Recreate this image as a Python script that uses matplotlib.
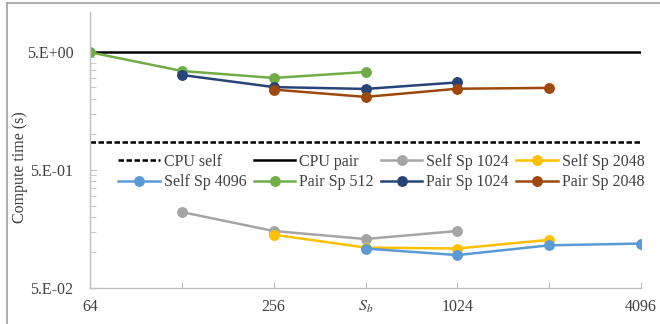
import numpy as np
import matplotlib
matplotlib.use('Agg')
from matplotlib import pyplot as plt
from matplotlib.ticker import FixedLocator, NullFormatter

plt.rcParams['font.family'] = ['Liberation Serif', 'DejaVu Serif']
plt.rcParams['mathtext.fontset'] = 'stix'

# block sizes (x) and compute times in seconds
x_all = [64, 4096]
cpu_self = [0.86, 0.86]
cpu_pair = [5.0, 5.0]

x_self_1024 = [128, 256, 512, 1024]
self_1024 = [0.22, 0.152, 0.130, 0.152]
x_self_2048 = [256, 512, 1024, 2048]
self_2048 = [0.1415, 0.110, 0.108, 0.128]
x_self_4096 = [512, 1024, 2048, 4096]
self_4096 = [0.108, 0.095, 0.115, 0.119]

x_pair_512 = [64, 128, 256, 512]
pair_512 = [4.97, 3.45, 3.01, 3.38]
x_pair_1024 = [128, 256, 512, 1024]
pair_1024 = [3.19, 2.52, 2.43, 2.76]
x_pair_2048 = [256, 512, 1024, 2048]
pair_2048 = [2.40, 2.08, 2.44, 2.48]

x_ticks = [64, 128, 256, 512, 1024, 2048, 4096]
x_labels = ['64', '', '256', '$S_b$', '1024', '', '4096']
y_ticks = [0.05, 0.5, 5.0]
y_labels = ['5.E-02', '5.E-01', '5.E+00']


def main():
    fig = plt.figure(figsize=(6.6, 3.24), dpi=100)
    ax = fig.add_axes([90 / 660, 1 - 288 / 324, (641 - 90) / 660, (288 - 12) / 324])

    lw = 1.8
    ms = 6.8
    h = {}
    h['CPU self'], = ax.plot(x_all, cpu_self, '--', color='black', lw=lw, dashes=(2.2, 1.0))
    h['CPU pair'], = ax.plot(x_all, cpu_pair, '-', color='black', lw=lw)
    h['Self Sp 1024'], = ax.plot(x_self_1024, self_1024, '-o', color='#A5A5A5', lw=lw, ms=ms)
    h['Self Sp 2048'], = ax.plot(x_self_2048, self_2048, '-o', color='#FFC000', lw=lw, ms=ms)
    h['Self Sp 4096'], = ax.plot(x_self_4096, self_4096, '-o', color='#5B9BD5', lw=lw, ms=ms)
    h['Pair Sp 512'], = ax.plot(x_pair_512, pair_512, '-o', color='#70AD47', lw=lw, ms=ms)
    h['Pair Sp 1024'], = ax.plot(x_pair_1024, pair_1024, '-o', color='#264478', lw=lw, ms=ms)
    h['Pair Sp 2048'], = ax.plot(x_pair_2048, pair_2048, '-o', color='#9E480E', lw=lw, ms=ms)

    ax.set_xscale('log', base=2)
    ax.set_yscale('log')
    ax.set_xlim(64, 4096)
    ax.set_ylim(0.05, 10.9)

    ax.xaxis.set_major_locator(FixedLocator(x_ticks))
    ax.set_xticklabels(x_labels)
    ax.xaxis.set_minor_locator(FixedLocator([]))
    ax.yaxis.set_major_locator(FixedLocator(y_ticks))
    ax.set_yticklabels(y_labels)
    minors = [0.05 * k for k in range(2, 10)] + [0.5 * k for k in range(2, 10)]
    ax.yaxis.set_minor_locator(FixedLocator(minors))
    ax.yaxis.set_minor_formatter(NullFormatter())

    for s in ['top', 'right']:
        ax.spines[s].set_visible(False)
    for s in ['left', 'bottom']:
        ax.spines[s].set_color('#BFBFBF')
        ax.spines[s].set_linewidth(1.0)
    ax.tick_params(axis='both', which='both', color='#BFBFBF', labelcolor='#404040',
                   labelsize=11.5, direction='in')
    ax.tick_params(axis='y', which='major', length=5, pad=12)
    ax.tick_params(axis='y', which='minor', length=4)
    ax.tick_params(axis='x', which='major', length=4, pad=8)
    ax.set_ylabel('Compute time (s)', fontsize=11.5, color='#404040')
    ax.yaxis.label.set_verticalalignment('center')
    ax.yaxis.set_label_coords(-70 / 551, 1 - (167 - 12) / 276)

    order = ['CPU self', 'Self Sp 4096', 'CPU pair', 'Pair Sp 512',
             'Self Sp 1024', 'Pair Sp 1024', 'Self Sp 2048', 'Pair Sp 2048']
    leg = ax.legend([h[k] for k in order], order, ncol=4, loc='upper left',
                    bbox_to_anchor=(0.04, 0.51), frameon=False, fontsize=11.5,
                    handlelength=2.6, handletextpad=0.25, columnspacing=0.45,
                    labelspacing=0.3, borderaxespad=0)
    for t in leg.get_texts():
        t.set_color('#404040')

    # chart border
    fig.add_artist(plt.Line2D([7 / 660, 7 / 660], [0, 1 - 3 / 324], color='#A0A0A0', lw=1.2))
    fig.add_artist(plt.Line2D([7 / 660, 1], [1 - 3 / 324, 1 - 3 / 324], color='#A0A0A0', lw=1.2))

    fig.savefig('out.png', dpi=100)


if __name__ == '__main__':
    main()
